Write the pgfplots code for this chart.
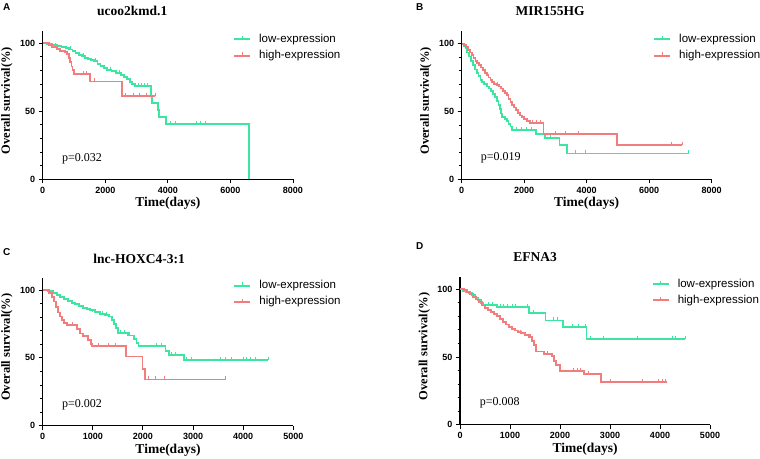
\documentclass[border=0pt]{standalone}
\usepackage{fontspec}
\setmainfont{Liberation Serif}
\setsansfont{Liberation Sans}
\usepackage{pgfplots}
\pgfplotsset{compat=1.18}

\definecolor{lowc}{RGB}{60,230,160}
\definecolor{highc}{RGB}{242,125,125}

\pgfplotsset{
  km/.style={
    scale only axis, clip=false,
    axis lines=left, axis line style={-, line width=1.1pt},
    ymin=0, ymax=109, xmin=0,
    ytick={0,50,100}, minor ytick={10,20,30,40,60,70,80,90},
    tick align=outside, major tick length=4pt, minor tick length=2.5pt,
    every tick/.style={black, line width=0.9pt},
    tick label style={font=\sffamily\bfseries\fontsize{9}{10}\selectfont},
    /pgf/number format/assume math mode=true,
    /pgf/number format/1000 sep={},
    xlabel={Time(days)}, ylabel={Overall survival(\%)},
    xlabel style={at={(axis description cs:0.5,-0.165)}, anchor=center,
      font=\bfseries\fontsize{13.5}{15}\selectfont},
    ylabel style={at={(axis description cs:-0.143,0.53)}, anchor=center,
      font=\bfseries\fontsize{12.5}{14}\selectfont},
    title style={anchor=center, font=\bfseries\fontsize{13.5}{15}\selectfont},
    legend cell align=left,
    legend style={draw=none, fill=none, anchor=west, inner sep=0pt, outer sep=0pt,
      font=\sffamily\fontsize{11.5}{13}\selectfont,
      nodes={inner sep=0pt, text height=8.4pt, text depth=2.4pt},
      row sep=5.5pt, column sep=8pt},
  },
  lowline/.style={color=lowc, line width=1.8pt, const plot, mark=none,
    legend image code/.code={\draw[lowc,line width=2pt](0pt,0pt)--(16pt,0pt);
      \draw[lowc,line width=0.9pt](8pt,0pt)--(8pt,3.2pt);}},
  highline/.style={color=highc, line width=1.8pt, const plot, mark=none,
    legend image code/.code={\draw[highc,line width=2pt](0pt,0pt)--(16pt,0pt);
      \draw[highc,line width=0.9pt](8pt,0pt)--(8pt,3.2pt);}},
  cens/.style={only marks, mark=|, mark size=1.8pt,
    mark options={line width=0.8pt, yshift=1.3pt}, forget plot},
}

\begin{document}
\begin{tikzpicture}
\path[use as bounding box] (0,0) rectangle (760pt,458pt);

% A
\begin{axis}[km, at={(42.7pt,278.7pt)}, width=250.3pt, height=148.2pt,
  xmax=8000, xtick={0,2000,4000,6000,8000},
  title={ucoo2kmd.1}, title style={at={(axis description cs:0.358,1.093)}},
  legend style={at={(0.761,0.889)}}]
\addplot[lowline] coordinates {
 (0,100) (150,99.5) (300,99) (450,98.3) (600,97.5) (750,96.5) (850,95.5)
 (950,94.5) (1050,93) (1150,91.5) (1250,90.5) (1350,89.5) (1450,88.5)
 (1550,87.5) (1650,87) (1750,85) (1850,83.5) (1950,82) (2050,80.5)
 (2200,79.5) (2350,78) (2500,77) (2600,75.5) (2700,73.5) (2780,71.5)
 (2850,70) (2950,68.5) (3450,61) (3500,56) (3680,51) (3720,46)
 (3950,40.5) (6600,40.5) (6600,0)};
\addlegendentry{low-expression}
\addplot[highline] coordinates {
 (0,100) (200,99) (300,97.5) (450,96) (560,94.5) (700,93.5) (780,92)
 (850,89) (880,86) (920,83) (950,80.5) (1000,77.5) (1520,72) (2530,61.5)
 (3600,61.5)};
\addlegendentry{high-expression}
\addplot[cens, color=lowc] coordinates {
 (400,98.3) (900,95.5) (1300,90.5) (1700,87) (2150,80.5) (2450,78)
 (3050,68.5) (3150,68.5) (3250,68.5) (3350,68.5) (4070,40.5) (4230,40.5)
 (4920,40.5) (5030,40.5) (5190,40.5)};
\addplot[cens, color=highc] coordinates {
 (1300,77.5) (1400,77.5) (1650,72) (2650,61.5) (2900,61.5) (3100,61.5)
 (3300,61.5) (3600,61.5)};
\node[font=\fontsize{12}{14}\selectfont] at (axis cs:1256,15.4) {p=0.032};
\node[font=\sffamily\bfseries\fontsize{10}{12}\selectfont]
  at (axis description cs:-0.144,1.165) {A};
\end{axis}

% B
\begin{axis}[km, at={(461.7pt,278.7pt)}, width=250pt, height=147.8pt,
  xmax=8000, xtick={0,2000,4000,6000,8000},
  title={MIR155HG}, title style={at={(axis description cs:0.354,1.096)}},
  legend style={at={(0.766,0.892)}}]
\addplot[lowline] coordinates {
 (0,100) (60,98.5) (120,96.5) (180,93.5) (240,90.5) (300,87.5) (360,84)
 (420,81) (480,78.5) (540,76) (600,73.5) (660,71.5) (720,70) (800,68.5)
 (880,67) (950,65) (1010,63) (1070,60.5) (1130,58) (1180,55) (1220,52)
 (1260,48.5) (1300,46) (1380,44.5) (1440,43) (1500,41) (1560,39)
 (1620,36.5) (2390,33.5) (2660,30.5) (3130,25.5) (3370,19) (7250,19)};
\addlegendentry{low-expression}
\addplot[highline] coordinates {
 (0,100) (80,99) (140,97.5) (200,95.5) (260,93.5) (320,91.5) (380,89.5)
 (440,87.5) (500,86) (560,84.5) (620,82.5) (680,80.5) (740,78.5) (800,77)
 (860,75) (920,73.5) (980,72) (1040,70.5) (1120,69.5) (1200,68.5)
 (1260,67) (1320,65) (1380,63.5) (1440,62) (1500,59.5) (1560,57)
 (1620,55) (1680,53) (1740,51) (1800,49) (1860,47) (1920,46) (2000,44.5)
 (2100,43) (2180,41.5) (2620,33.5) (4960,25.5) (7050,25.5)};
\addlegendentry{high-expression}
\addplot[cens, color=lowc] coordinates {
 (1760,36.5) (1920,36.5) (2080,36.5) (2240,36.5) (2830,30.5) (3630,19)
 (3950,19) (7250,19)};
\addplot[cens, color=highc] coordinates {
 (1150,69.5) (1450,62) (2250,41.5) (2400,41.5) (2520,41.5) (2990,33.5)
 (3310,33.5) (3750,33.5) (6720,25.5) (7050,25.5)};
\node[font=\fontsize{12}{14}\selectfont] at (axis cs:1251,15.5) {p=0.019};
\node[font=\sffamily\bfseries\fontsize{10}{12}\selectfont]
  at (axis description cs:-0.168,1.168) {B};
\end{axis}

% C
\begin{axis}[km, at={(42.7pt,32.3pt)}, width=250.6pt, height=147.9pt,
  xmax=5000, xtick={0,1000,2000,3000,4000,5000},
  title={lnc-HOXC4-3:1}, title style={at={(axis description cs:0.385,1.087)}},
  legend style={at={(0.761,0.892)}}]
\addplot[lowline] coordinates {
 (0,100) (100,99.5) (200,98) (280,96.5) (350,95) (420,93.5) (500,92)
 (580,90.5) (650,89.5) (720,88.5) (800,87) (880,86) (950,85) (1050,84)
 (1150,82.5) (1250,81.5) (1320,80.5) (1380,78) (1430,75) (1470,72)
 (1510,68.5) (1700,66.5) (1820,64) (1870,61) (1910,58.5) (2450,55)
 (2520,52) (2820,48.5) (4500,48.5)};
\addlegendentry{low-expression}
\addplot[highline] coordinates {
 (0,100) (120,98) (180,95) (220,91.5) (260,87.5) (300,83.5) (340,80.5)
 (380,78) (430,75.5) (480,74) (680,71) (740,68) (800,66) (900,63)
 (960,60.5) (990,58.5) (1660,51) (1990,42) (2040,34) (3640,34)};
\addlegendentry{high-expression}
\addplot[cens, color=lowc] coordinates {
 (1000,84) (1200,82.5) (1280,81.5) (1560,68.5) (1640,68.5) (1720,66.5)
 (2270,58.5) (2370,58.5) (2570,52) (2640,52) (2870,48.5) (2970,48.5)
 (3540,48.5) (3640,48.5) (3770,48.5) (4000,48.5) (4070,48.5) (4140,48.5)
 (4240,48.5) (4500,48.5)};
\addplot[cens, color=highc] coordinates {
 (600,74) (1110,58.5) (1310,58.5) (1460,58.5) (2110,34) (2240,34)
 (2420,34) (3640,34)};
\node[font=\fontsize{12}{14}\selectfont] at (axis cs:784,15.5) {p=0.002};
\node[font=\sffamily\bfseries\fontsize{10}{12}\selectfont]
  at (axis description cs:-0.144,1.174) {C};
\end{axis}

% D
\begin{axis}[km, at={(460pt,33.3pt)}, width=250pt, height=147.6pt,
  xmax=5000, xtick={0,1000,2000,3000,4000,5000},
  title={EFNA3}, title style={at={(axis description cs:0.3,1.093)}},
  legend style={at={(0.767,0.897)}}]
\addplot[lowline] coordinates {
 (0,100) (60,99) (120,98) (180,97) (240,95.5) (300,94) (360,92) (420,90)
 (470,88.5) (740,87) (1380,82.5) (1710,77) (2060,72) (2530,63.5)
 (4500,63.5)};
\addlegendentry{low-expression}
\addplot[highline] coordinates {
 (0,100) (80,99.5) (140,98) (200,96.5) (260,94.5) (320,92.5) (380,90.5)
 (440,88) (500,86) (560,84.5) (620,83) (680,81.5) (740,80) (800,78)
 (860,76) (920,74) (980,72) (1040,70.5) (1100,69.5) (1160,68.5)
 (1220,67.5) (1300,66.5) (1380,64.5) (1440,62) (1480,59) (1520,54)
 (1680,52) (1840,50.5) (1880,47) (1920,44) (2000,39.5) (2480,37.5)
 (2820,31.5) (4130,31.5)};
\addlegendentry{high-expression}
\addplot[cens, color=lowc] coordinates {
 (250,95.5) (560,88.5) (650,88.5) (810,87) (870,87) (940,87) (1040,87)
 (1110,87) (1340,87) (1470,82.5) (1870,77) (1940,77) (2240,72) (2370,72)
 (2500,72) (2610,63.5) (2870,63.5) (3540,63.5) (4240,63.5) (4310,63.5)
 (4500,63.5)};
\addplot[cens, color=highc] coordinates {
 (1200,67.5) (1400,64.5) (1740,52) (2270,39.5) (2340,39.5) (2410,39.5)
 (2570,37.5) (3010,31.5) (3640,31.5) (3970,31.5) (4040,31.5) (4110,31.5)};
\node[font=\fontsize{12}{14}\selectfont] at (axis cs:794,16) {p=0.008};
\node[font=\sffamily\bfseries\fontsize{10}{12}\selectfont]
  at (axis description cs:-0.161,1.213) {D};
\end{axis}
\end{tikzpicture}
\end{document}
